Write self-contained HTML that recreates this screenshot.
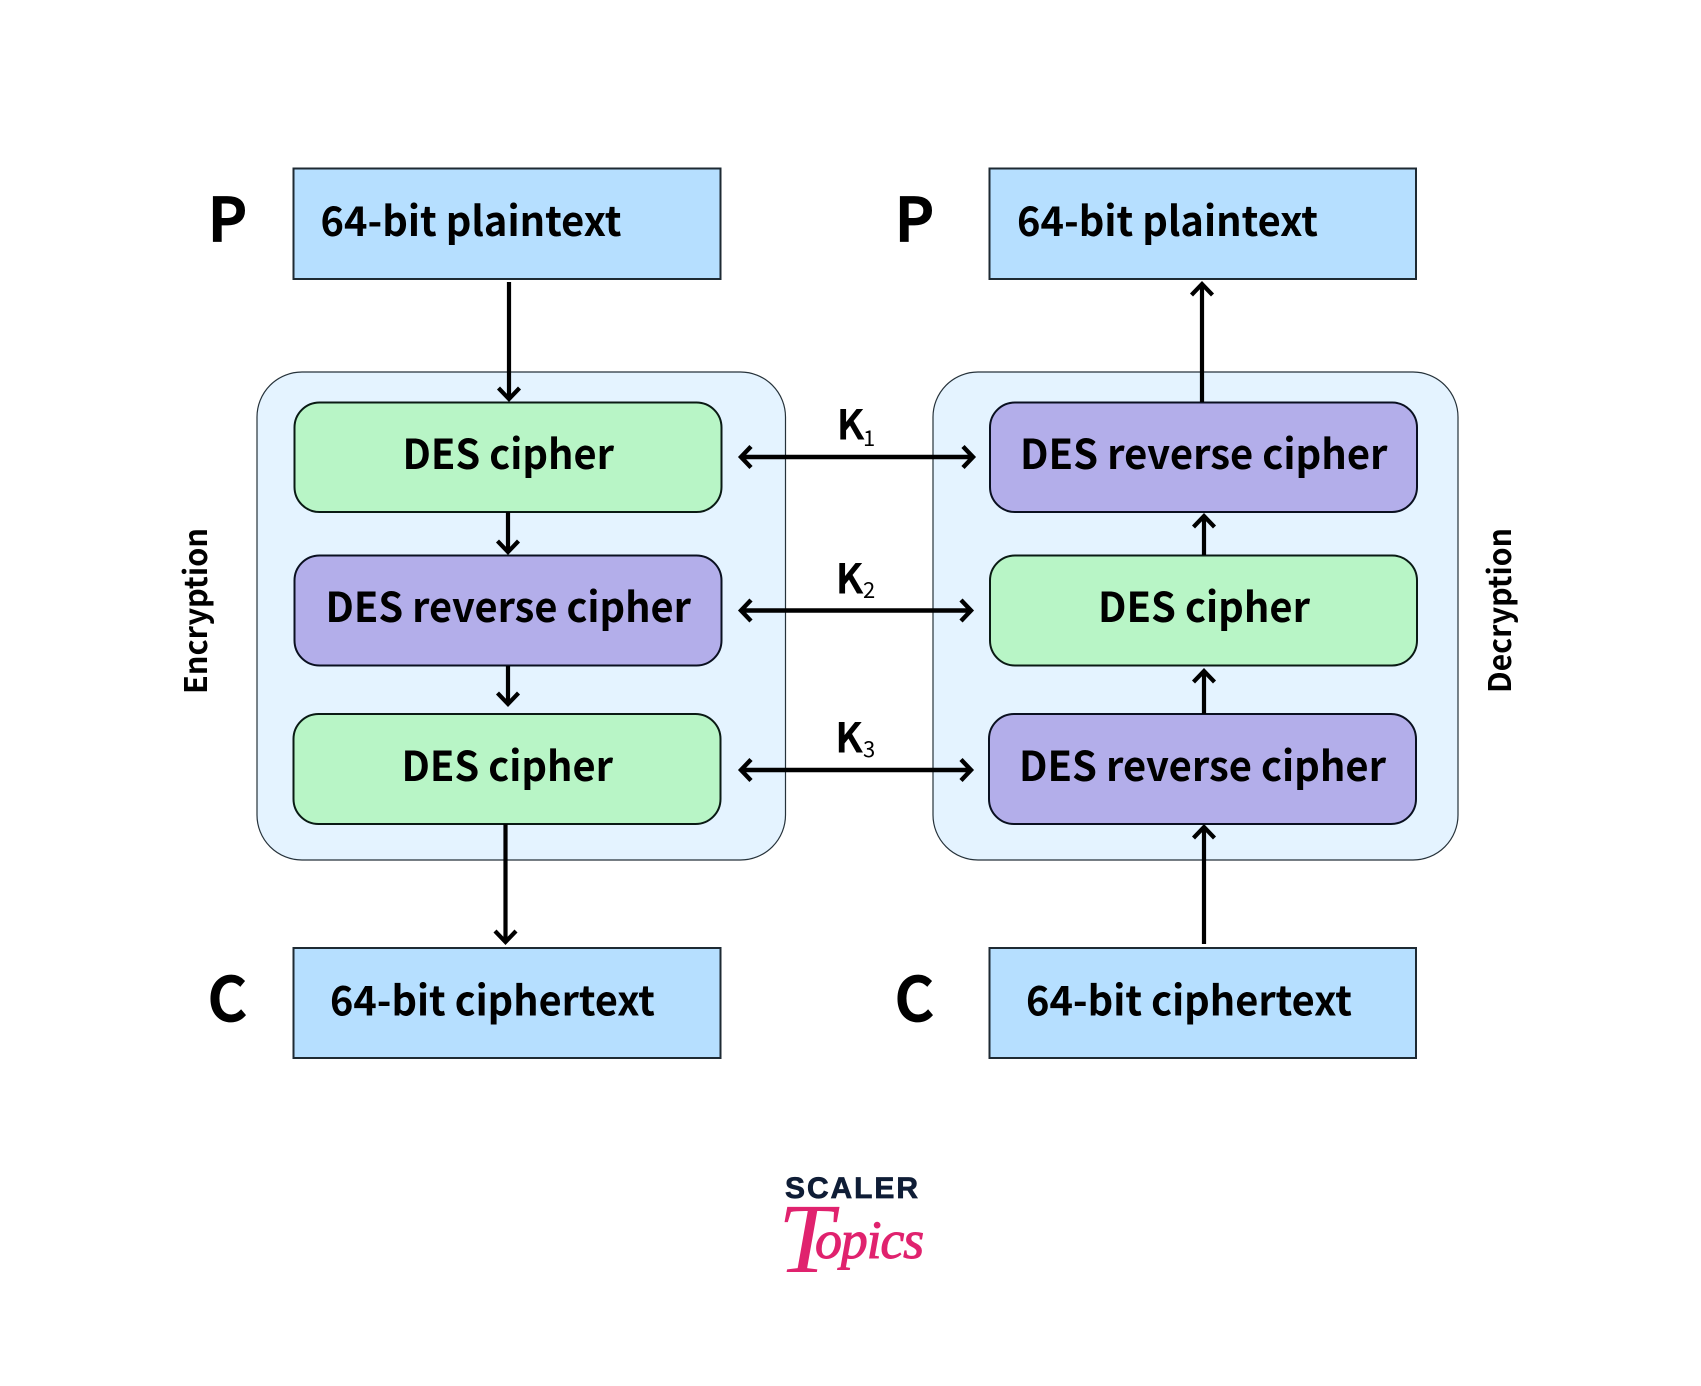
<!DOCTYPE html>
<html><head><meta charset="utf-8"><style>
html,body{margin:0;padding:0;background:#fff}
svg{display:block}
.t{font-family:"Noto Sans CJK SC","Liberation Sans",sans-serif;font-weight:700;fill:#000}
.l{fill:none;stroke:#000;stroke-width:4.2}
.h{fill:none;stroke:#000;stroke-width:4.4}
.b{fill:#b6dfff;stroke:#1e2a33;stroke-width:2}
.g{fill:#b8f5c6;stroke:#0a1a14;stroke-width:2}
.p{fill:#b3aeea;stroke:#0a1020;stroke-width:2}
.o{fill:#e4f3ff;stroke:#26323a;stroke-width:1.2}
</style></head><body>
<svg width="1701" height="1386" viewBox="0 0 1701 1386" xmlns="http://www.w3.org/2000/svg">
<rect width="1701" height="1386" fill="#fff"/>
<rect class="o" x="257" y="372" width="528.5" height="488" rx="45"/>
<rect class="o" x="933" y="372" width="525" height="488" rx="45"/>
<rect class="b" x="293.500" y="168.500" width="427" height="110.500"/>
<rect class="b" x="989.500" y="168.500" width="426.500" height="110.500"/>
<rect class="b" x="293.500" y="948" width="427" height="110"/>
<rect class="b" x="989.500" y="948" width="426.500" height="110"/>
<rect class="g" x="294.500" y="402.500" width="427" height="109.500" rx="25"/>
<rect class="p" x="294.500" y="555.500" width="427" height="110" rx="25"/>
<rect class="g" x="293.500" y="714" width="427" height="110" rx="25"/>
<rect class="p" x="990" y="402.500" width="427" height="109.500" rx="25"/>
<rect class="g" x="990" y="555.500" width="427" height="110" rx="25"/>
<rect class="p" x="989" y="714" width="427" height="110" rx="25"/>
<path class="l" d="M509 282V399M498.500 388L509 399L519.500 388"/>
<path class="l" d="M508 512V551M497.500 541L508 552L518.500 541"/>
<path class="l" d="M508 666V703M497.500 693L508 704L518.500 693"/>
<path class="l" d="M505.500 824V941M495 931L505.500 942L516 931"/>
<path class="l" d="M1202 402V284M1191.500 295L1202 284L1212.500 295"/>
<path class="l" d="M1204 555V516M1193.500 527L1204 516L1214.500 527"/>
<path class="l" d="M1204 714V671M1193.500 682L1204 671L1214.500 682"/>
<path class="l" d="M1204 944V827M1193.500 838L1204 827L1214.500 838"/>
<path class="h" d="M741 457H973M751 446.500L741 457L751 467.500M963 446.500L973 457L963 467.500"/>
<path class="h" d="M741 610.500H971M751 600L741 610.500L751 621M961 600L971 610.500L961 621"/>
<path class="h" d="M741 770H971M751 759.500L741 770L751 780.500M961 759.500L971 770L961 780.500"/>
<g class="t" font-size="41">
<text x="320.500" y="236" textLength="301" lengthAdjust="spacingAndGlyphs">64-bit plaintext</text>
<text x="1017" y="236" textLength="301" lengthAdjust="spacingAndGlyphs">64-bit plaintext</text>
<text x="402.500" y="469" textLength="211.500" lengthAdjust="spacingAndGlyphs">DES cipher</text>
<text x="325.500" y="622" textLength="365.500" lengthAdjust="spacingAndGlyphs">DES reverse cipher</text>
<text x="401.500" y="781" textLength="211.500" lengthAdjust="spacingAndGlyphs">DES cipher</text>
<text x="1020" y="469" textLength="367.500" lengthAdjust="spacingAndGlyphs">DES reverse cipher</text>
<text x="1098" y="622" textLength="212" lengthAdjust="spacingAndGlyphs">DES cipher</text>
<text x="1019" y="781" textLength="367" lengthAdjust="spacingAndGlyphs">DES reverse cipher</text>
<text x="330" y="1015.500" textLength="325" lengthAdjust="spacingAndGlyphs">64-bit ciphertext</text>
<text x="1026" y="1015.500" textLength="326" lengthAdjust="spacingAndGlyphs">64-bit ciphertext</text>
</g>
<g class="t" font-size="60" style="font-weight:500;stroke:#000;stroke-width:1.8">
<text x="208" y="241">P</text>
<text x="895" y="241">P</text>
<text x="208" y="1020.500">C</text>
<text x="895" y="1020.500">C</text>
</g>
<g class="t" font-size="31">
<text transform="translate(207 694) rotate(-90)" textLength="166" lengthAdjust="spacingAndGlyphs">Encryption</text>
<text transform="translate(1511 693) rotate(-90)" textLength="165" lengthAdjust="spacingAndGlyphs">Decryption</text>
</g>
<g class="t" font-size="40" style="font-weight:500;stroke:#000;stroke-width:1.1">
<text x="837" y="439">K</text>
<text x="836" y="593">K</text>
<text x="835.500" y="752">K</text>
</g>
<g class="t" font-size="22" style="font-weight:400">
<text x="863" y="446">1</text>
<text x="863" y="598">2</text>
<text x="863" y="757">3</text>
</g>
<text x="785" y="1198" textLength="133" font-family="Liberation Sans, sans-serif" font-weight="700" font-size="30" fill="#0f1d36" stroke="#0f1d36" stroke-width="0.7">SCALER</text>
<text font-family="Liberation Serif, serif" font-style="italic" fill="#e0226e"><tspan x="778" y="1272" font-size="100">T</tspan><tspan x="815" y="1258" font-size="54" letter-spacing="-1.2" stroke="#e0226e" stroke-width="1">opics</tspan></text>
</svg>
</body></html>
